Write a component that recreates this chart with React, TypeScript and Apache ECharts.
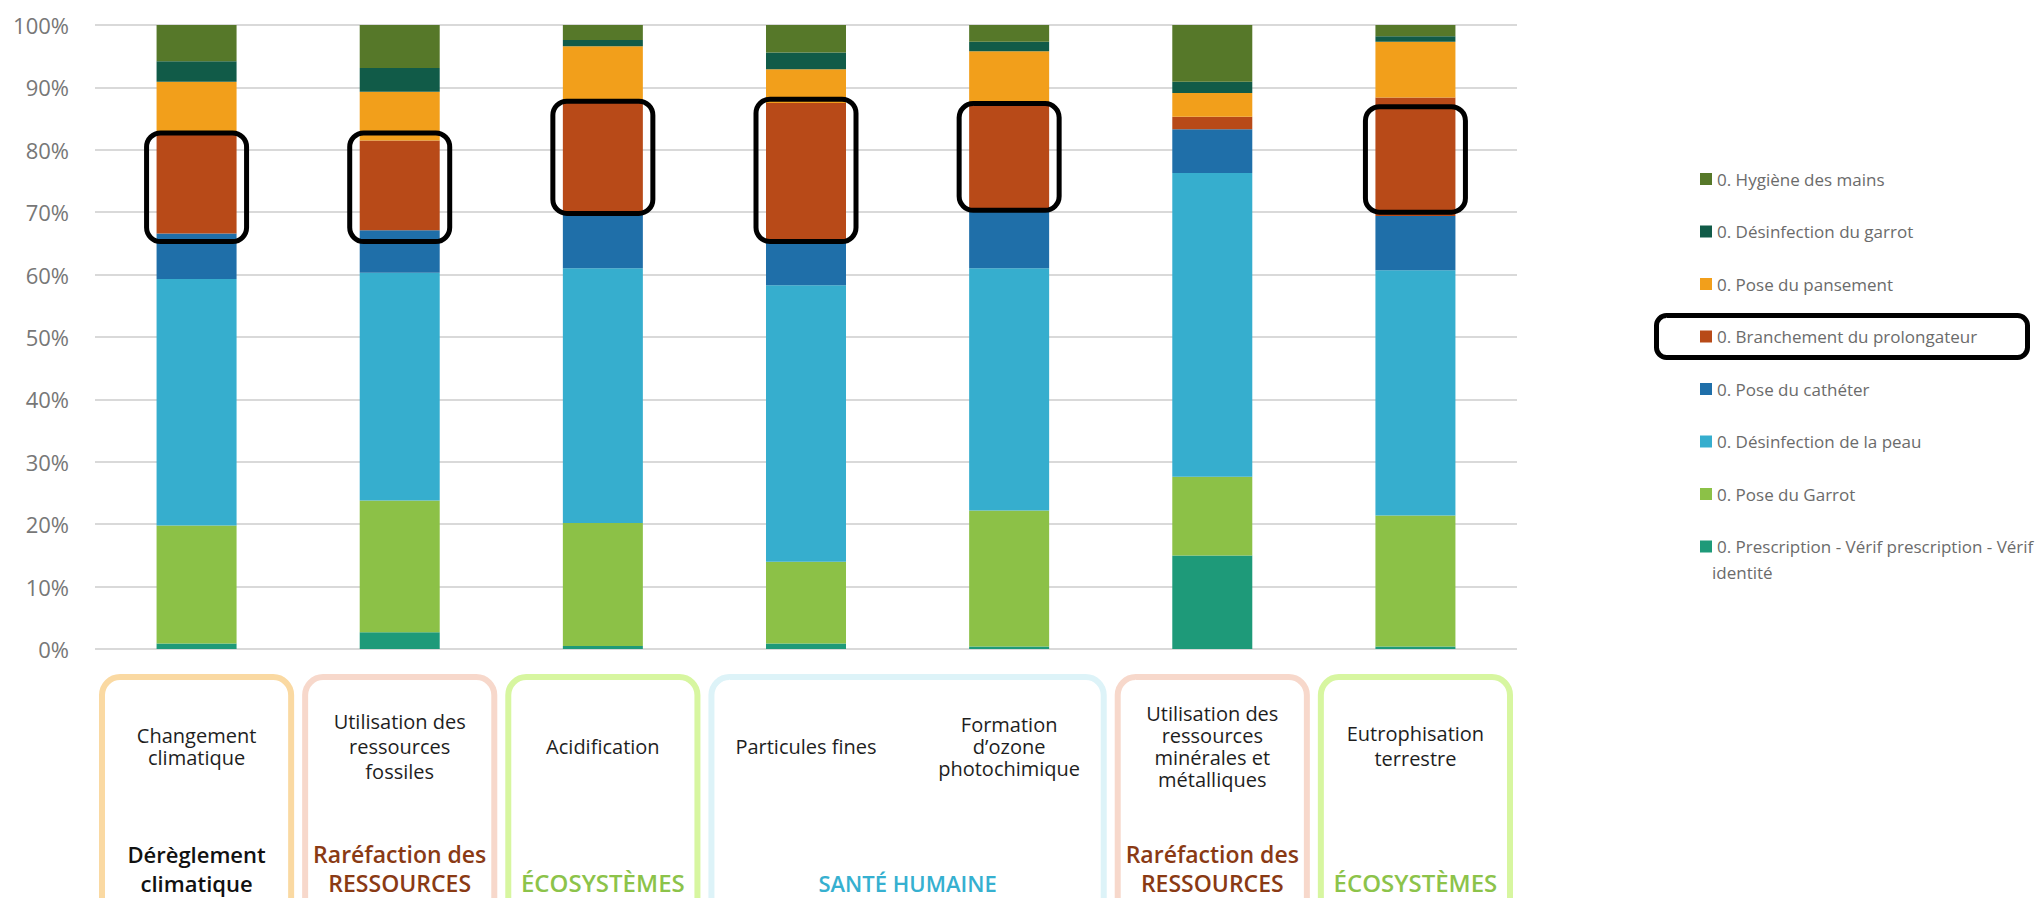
import { useEffect, useRef } from 'react';
import * as echarts from 'echarts';

// Impact categories (x axis), multi-line labels as laid out under the bars
const categories = [
  'Changement\nclimatique',
  'Utilisation des\nressources\nfossiles',
  'Acidification',
  'Particules fines',
  'Formation\nd’ozone\nphotochimique',
  'Utilisation des\nressources\nminérales et\nmétalliques',
  'Eutrophisation\nterrestre',
];

// Process steps, from the bottom of each stack to the top
const stepNames = [
  '0. Prescription - Vérif prescription - Vérif identité',
  '0. Pose du Garrot',
  '0. Désinfection de la peau',
  '0. Pose du cathéter',
  '0. Branchement du prolongateur',
  '0. Pose du pansement',
  '0. Désinfection du garrot',
  '0. Hygiène des mains',
];

// Share of each step in every impact category (%)
const prescription = [0.9, 2.7, 0.5, 0.9, 0.4, 15.0, 0.4];
const poseGarrot = [18.9, 21.1, 19.7, 13.1, 21.8, 12.6, 21.0];
const desinfectionPeau = [39.5, 36.5, 40.8, 44.3, 38.8, 48.7, 39.3];
const poseCatheter = [7.3, 6.8, 8.7, 7.0, 9.4, 7.0, 8.7];
const branchementProlongateur = [16.0, 14.4, 17.8, 22.2, 16.8, 2.0, 19.0];
const posePansement = [8.3, 7.8, 9.1, 5.4, 8.6, 3.8, 8.9];
const desinfectionGarrot = [3.3, 3.8, 1.0, 2.7, 1.5, 1.8, 0.9];
const hygieneMains = [5.8, 6.9, 2.4, 4.4, 2.7, 9.1, 1.8];

const stepValues = [
  prescription,
  poseGarrot,
  desinfectionPeau,
  poseCatheter,
  branchementProlongateur,
  posePansement,
  desinfectionGarrot,
  hygieneMains,
];

// Y axis ticks
const yMin = 0;
const yMax = 100;
const yStep = 10;

// Framed areas of protection grouping the categories
const groupFirst = [0, 1, 2, 3, 5, 6];
const groupLast = [0, 1, 2, 4, 5, 6];
const groupLabels = [
  'Dérèglement\nclimatique',
  'Raréfaction des\nRESSOURCES',
  'ÉCOSYSTÈMES',
  'SANTÉ HUMAINE',
  'Raréfaction des\nRESSOURCES',
  'ÉCOSYSTÈMES',
];
const groupTheme = ['climat', 'ressources', 'ecosystemes', 'sante', 'ressources', 'ecosystemes'];

// Highlighted ranges around the "Branchement du prolongateur" segments (%)
const highlightCategory = [0, 1, 2, 3, 4, 6];
const highlightLow = [65.3, 65.3, 69.8, 65.3, 70.3, 70.0];
const highlightHigh = [82.7, 82.7, 87.8, 88.1, 87.4, 86.9];

// ---- styles ----
const FONT = "'Open Sans', 'Noto Sans', sans-serif";
const stepColors = ['#1e9a79', '#8cc147', '#36aece', '#1f6fa9', '#b84a18', '#f29f1b', '#115b48', '#567829'];
const labelLineHeight = [22, 25, 22, 22, 22, 22, 25];
const themeStyles: Record<string, { border: string; color: string; size: number; weight: number }> = {
  climat: { border: '#fad9a2', color: '#111111', size: 22, weight: 600 },
  ressources: { border: '#f7d8cb', color: '#8a3a14', size: 23, weight: 600 },
  ecosystemes: { border: '#d7f6a0', color: '#8cc34a', size: 24, weight: 600 },
  sante: { border: '#ddf3f8', color: '#36b0d0', size: 22, weight: 600 },
};
const BAR_WIDTH = 80;
const LEGEND_LEFT = 1695;
const LEGEND_FIRST_Y = 179;
const LEGEND_TOP = LEGEND_FIRST_Y - 15;
const LEGEND_STEP = 52.5;

export default function App() {
  const ref = useRef<HTMLDivElement>(null);

  useEffect(() => {
    document.body.style.margin = '0';
    if (!ref.current) return;
    const chart = echarts.init(ref.current, undefined, { renderer: 'svg' });

    const legendOrder = [...stepNames].reverse();
    const prescriptionName = stepNames[0];
    const wrapAt = ' identité';
    const highlightedIndex = legendOrder.indexOf('0. Branchement du prolongateur');
    const lastIndex = legendOrder.length - 1;

    const barSeries = stepNames.map((name, i) => ({
      name,
      type: 'bar',
      stack: 'total',
      barWidth: BAR_WIDTH,
      itemStyle: { color: stepColors[i] },
      emphasis: { disabled: true },
      data: stepValues[i],
      z: 2,
    }));

    const groupSeries = {
      type: 'custom',
      name: 'groups',
      z: 1,
      silent: true,
      encode: { x: 0, y: 1 },
      data: groupFirst.map((f, i) => [f, groupLast[i], i]),
      renderItem: (params: any, api: any) => {
        const i = params.dataIndex;
        const theme = themeStyles[groupTheme[i]];
        const band = api.size([1, 0])[0];
        const p0 = api.coord([api.value(0), 0]);
        const p1 = api.coord([api.value(1), 0]);
        const left = p0[0] - band / 2 + 7;
        const right = p1[0] + band / 2 - 7;
        const baseY = p0[1];
        return {
          type: 'group',
          children: [
            {
              type: 'rect',
              shape: { x: left, y: baseY + 28, width: right - left, height: 260, r: 18 },
              style: { fill: 'none', stroke: theme.border, lineWidth: 6 },
            },
            {
              type: 'text',
              style: {
                text: groupLabels[i],
                x: (left + right) / 2,
                y: baseY + 248,
                align: 'center',
                verticalAlign: 'bottom',
                fill: theme.color,
                fontFamily: FONT,
                fontSize: theme.size,
                fontWeight: theme.weight,
                lineHeight: 29,
              },
            },
          ],
        };
      },
    };

    const highlightSeries = {
      type: 'custom',
      name: 'highlight',
      z: 10,
      silent: true,
      encode: { x: 0, y: [1, 2] },
      data: highlightCategory.map((c, i) => [c, highlightLow[i], highlightHigh[i]]),
      renderItem: (_params: any, api: any) => {
        const lo = api.coord([api.value(0), api.value(1)]);
        const hi = api.coord([api.value(0), api.value(2)]);
        const w = BAR_WIDTH + 20;
        return {
          type: 'rect',
          shape: { x: lo[0] - w / 2, y: hi[1], width: w, height: lo[1] - hi[1], r: 14 },
          style: { fill: 'none', stroke: '#000000', lineWidth: 5 },
        };
      },
    };

    const legendText = { fontFamily: FONT, fontSize: 17, color: '#6b6b6b' };

    chart.setOption({
      animation: false,
      textStyle: { fontFamily: FONT },
      grid: { left: 95, right: 519, top: 25, bottom: 249, containLabel: false },
      legend: {
        orient: 'vertical',
        left: LEGEND_LEFT,
        top: LEGEND_TOP,
        icon: 'rect',
        itemWidth: 12,
        itemHeight: 12,
        itemGap: LEGEND_STEP - 20,
        selectedMode: false,
        textStyle: { ...legendText, lineHeight: 20 },
        data: legendOrder,
        formatter: (name: string) => (name === prescriptionName ? name.replace(wrapAt, '') : name),
      },
      xAxis: {
        type: 'category',
        data: categories.map((c, i) => ({
          value: c,
          textStyle: { lineHeight: labelLineHeight[i], verticalAlign: 'middle' },
        })),
        axisLine: { show: false },
        axisTick: { show: false },
        axisLabel: {
          interval: 0,
          fontFamily: FONT,
          fontSize: 20,
          color: '#1e1e1e',
          verticalAlign: 'middle',
          margin: 97,
        },
      },
      yAxis: {
        type: 'value',
        min: yMin,
        max: yMax,
        interval: yStep,
        axisLine: { show: false },
        axisTick: { show: false },
        axisLabel: { formatter: '{value}%', fontFamily: FONT, fontSize: 22, color: '#777777', margin: 26 },
        splitLine: { lineStyle: { color: '#d9d9d9', width: 2 } },
      },
      graphic: [
        {
          type: 'rect',
          silent: true,
          shape: {
            x: LEGEND_LEFT - 38.5,
            y: LEGEND_FIRST_Y + highlightedIndex * LEGEND_STEP - 21,
            width: 371,
            height: 42,
            r: 10,
          },
          style: { fill: 'none', stroke: '#000000', lineWidth: 5 },
        },
        {
          // wrapped end of the last legend entry
          type: 'text',
          silent: true,
          x: LEGEND_LEFT + 17,
          y: LEGEND_FIRST_Y + lastIndex * LEGEND_STEP + 26,
          style: {
            text: wrapAt.trim(),
            ...legendText,
            fill: legendText.color,
            verticalAlign: 'middle',
          },
        },
      ],
      series: [groupSeries, ...barSeries, highlightSeries],
    });

    return () => chart.dispose();
  }, []);

  return <div ref={ref} style={{ width: 2036, height: 898 }} />;
}
